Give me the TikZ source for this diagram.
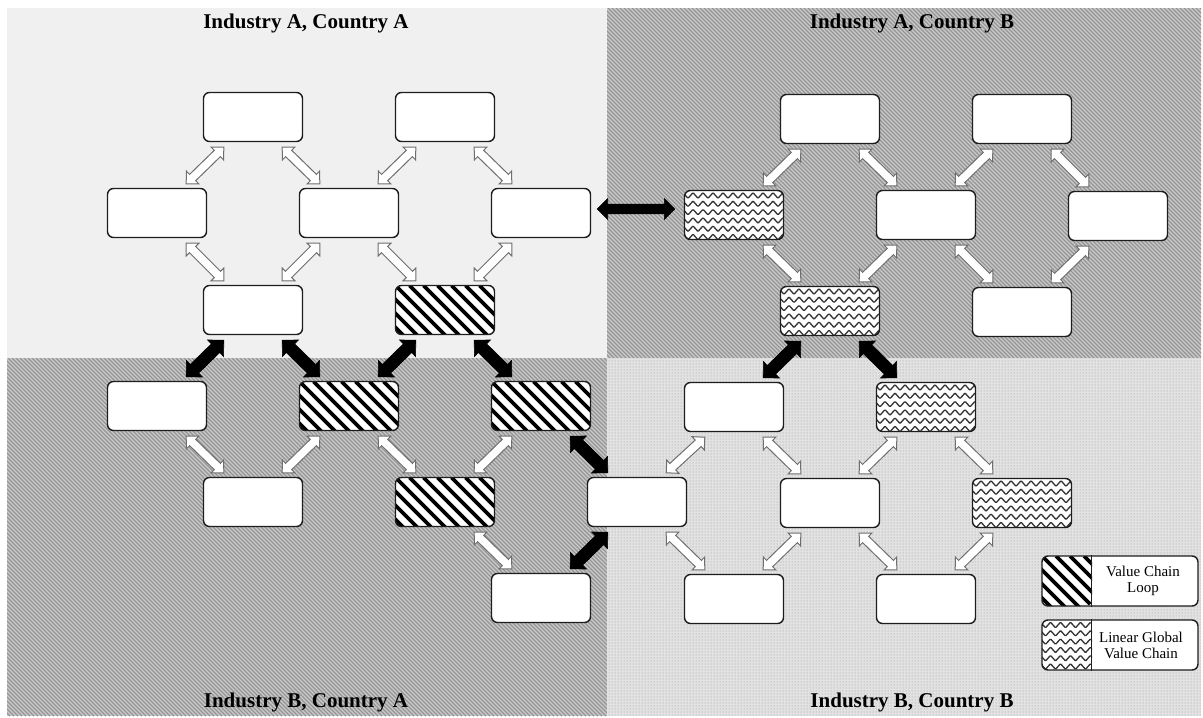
\documentclass[tikz,border=0pt]{standalone}
\usepackage{fontspec}
\setmainfont{Liberation Serif}
\usetikzlibrary{calc,patterns,decorations.pathmorphing}

\definecolor{tlbg}{HTML}{F0F0F0}
\definecolor{diagbg}{HTML}{CACACA}
\definecolor{diagln}{HTML}{949494}
\definecolor{dotbg}{HTML}{E2E2E2}
\definecolor{dotfg}{HTML}{989898}
\definecolor{boxline}{HTML}{1E1E1E}
\definecolor{arrline}{HTML}{6E6E6E}
\definecolor{waveline}{HTML}{333333}

\tikzset{
  box/.style={draw=boxline, line width=1.4pt, rounded corners=6pt, fill=white,
    minimum width=99pt, minimum height=49pt, inner sep=0pt},
  stripes/.style={path picture={
    \foreach \i in {-70,-56,...,112}{
      \draw[black, line width=3.6pt, sharp corners]
        ([xshift=\i pt]path picture bounding box.north west) -- ++(70pt,-70pt);}}},
  waves/.style={path picture={
    \foreach \r in {0,...,6}{
      \draw[waveline, line width=1.3pt, rounded corners=0.8pt, decorate,
        decoration={zigzag, segment length=10pt, amplitude=2.8pt}]
        ([xshift=-4pt, yshift={-5pt-8.3pt*\r}]path picture bounding box.north west) -- ++(120pt,0pt);}}},
  legstripes/.style={path picture={
    \clip (path picture bounding box.north west) rectangle ([xshift=50pt]path picture bounding box.south west);
    \foreach \i in {-70,-56,...,56}{
      \draw[black, line width=3.6pt, sharp corners]
        ([xshift=\i pt]path picture bounding box.north west) -- ++(70pt,-70pt);}}},
  legwaves/.style={path picture={
    \clip (path picture bounding box.north west) rectangle ([xshift=50pt]path picture bounding box.south west);
    \foreach \r in {0,...,6}{
      \draw[waveline, line width=1.3pt, rounded corners=0.8pt, decorate,
        decoration={zigzag, segment length=10pt, amplitude=2.8pt}]
        ([xshift=-4pt, yshift={-5pt-8.3pt*\r}]path picture bounding box.north west) -- ++(70pt,0pt);}}},
  loopbox/.style={box, stripes},
  gvcbox/.style={box, waves},
  legbox/.style={box, minimum width=156pt, minimum height=50pt},
  warrow/.style={draw=arrline, line width=1pt, fill=white, line join=miter},
  barrow/.style={draw=black, line width=0.6pt, fill=black, line join=miter},
  title/.style={font=\bfseries\fontsize{21}{25}\selectfont},
  legtext/.style={font=\fontsize{15}{16}\selectfont, align=center, inner sep=0pt},
}

% block double arrow: style, half shaft width, head length (= half head width), from, to
\newcommand\fatarrow[5]{%
  \coordinate (fa-a) at #4;
  \coordinate (fa-b) at #5;
  \coordinate (fa-p) at ($(fa-a)!#3!(fa-b)$);
  \coordinate (fa-q) at ($(fa-b)!#3!(fa-a)$);
  \draw[#1] (fa-a)
    -- ($(fa-p)!#3!90:(fa-b)$) -- ($(fa-p)!#2!90:(fa-b)$)
    -- ($(fa-q)!#2!-90:(fa-a)$) -- ($(fa-q)!#3!-90:(fa-a)$)
    -- (fa-b)
    -- ($(fa-q)!#3!90:(fa-a)$) -- ($(fa-q)!#2!90:(fa-a)$)
    -- ($(fa-p)!#2!-90:(fa-b)$) -- ($(fa-p)!#3!-90:(fa-b)$)
    -- cycle;}
% links from an upper box to the box below-left / below-right of it
\newcommand\wdl[2]{\fatarrow{warrow}{4.4pt}{9pt}{($(#1.south west)+(21,5)$)}{($(#2.north east)+(-21,-4)$)}}
\newcommand\wdr[2]{\fatarrow{warrow}{4.4pt}{9pt}{($(#1.south east)+(-21,5)$)}{($(#2.north west)+(21,-4)$)}}
\newcommand\bdl[2]{\fatarrow{barrow}{6pt}{11.5pt}{($(#1.south west)+(21,5)$)}{($(#2.north east)+(-21,-4)$)}}
\newcommand\bdr[2]{\fatarrow{barrow}{6pt}{11.5pt}{($(#1.south east)+(-21,5)$)}{($(#2.north west)+(21,-4)$)}}

\begin{document}
\begin{tikzpicture}[x=1pt, y=-1pt]
\useasboundingbox (0,0) rectangle (1203,718);
\fill[white] (0,0) rectangle (1203,718);

% quadrant backgrounds
\fill[tlbg] (7,8) rectangle (607,358);
\begin{scope}
  \clip (607,8) rectangle (1201,358);
  \fill[diagbg] (607,8) rectangle (1201,358);
  \foreach \i in {256,260,...,1204}
    \draw[diagln, line width=1.4pt] (\i,8) -- ({\i+350},358);
\end{scope}
\begin{scope}
  \clip (7,358) rectangle (607,716);
  \fill[diagbg] (7,358) rectangle (607,716);
  \foreach \i in {-352,-348,...,608}
    \draw[diagln, line width=1.4pt] (\i,358) -- ({\i+358},716);
\end{scope}
\fill[dotbg] (607,358) rectangle (1201,716);
\fill[pattern=dots, pattern color=dotfg] (607,358) rectangle (1201,716);

% Industry A, Country A
\node[box] (a1) at (253,117) {};
\node[box] (a2) at (445,117) {};
\node[box] (a3) at (157,213) {};
\node[box] (a4) at (349,213) {};
\node[box] (a5) at (541,213) {};
\node[box] (a6) at (253,310) {};
\node[loopbox] (a7) at (445,310) {};

% Industry B, Country A
\node[box] (b1) at (157,406) {};
\node[loopbox] (b2) at (349,406) {};
\node[loopbox] (b3) at (541,406) {};
\node[box] (b4) at (253,502) {};
\node[loopbox] (b5) at (445,502) {};
\node[box] (b6) at (637,502) {};
\node[box] (b7) at (541,598) {};

% Industry A, Country B
\node[box] (c1) at (830,119) {};
\node[box] (c2) at (1022,119) {};
\node[gvcbox] (c3) at (734,215) {};
\node[box] (c4) at (926,215) {};
\node[box] (c5) at (1118,216) {};
\node[gvcbox] (c6) at (830,311) {};
\node[box] (c7) at (1022,312) {};

% Industry B, Country B
\node[box] (d1) at (734,407) {};
\node[gvcbox] (d2) at (926,407) {};
\node[box] (d3) at (830,503) {};
\node[gvcbox] (d4) at (1022,503) {};
\node[box] (d5) at (734,599) {};
\node[box] (d6) at (926,599) {};

% links inside industry A, country A
\wdl{a1}{a3} \wdr{a1}{a4} \wdl{a2}{a4} \wdr{a2}{a5}
\wdr{a3}{a6} \wdl{a4}{a6} \wdr{a4}{a7} \wdl{a5}{a7}
% links between industries, country A
\bdl{a6}{b1} \bdr{a6}{b2} \bdl{a7}{b2} \bdr{a7}{b3}
% links inside industry B, country A
\wdr{b1}{b4} \wdl{b2}{b4} \wdr{b2}{b5} \wdl{b3}{b5}
\bdr{b3}{b6} \wdr{b5}{b7} \bdl{b6}{b7} \wdr{b6}{d5}
% links inside industry A, country B
\wdl{c1}{c3} \wdr{c1}{c4} \wdl{c2}{c4} \wdr{c2}{c5}
\wdr{c3}{c6} \wdl{c4}{c6} \wdr{c4}{c7} \wdl{c5}{c7}
% links between industries, country B
\bdl{c6}{d1} \bdr{c6}{d2}
% links inside industry B, country B
\wdl{d1}{b6} \wdr{d1}{d3} \wdl{d2}{d3} \wdr{d2}{d4}
\wdl{d3}{d5} \wdr{d3}{d6} \wdl{d4}{d6}
% link between countries, industry A
\fatarrow{barrow}{4.8pt}{10.5pt}{($(a5.east)+(6,-4)$)}{($(c3.west)+(-9,-6)$)}

% quadrant titles
\node[title] (t1) at (306,23) {Industry A, Country A};
\node[title] (t2) at (912,23) {Industry A, Country B};
\node[title] (t3) at (306,702) {Industry B, Country A};
\node[title] (t4) at (912,702) {Industry B, Country B};

% legend
\node[legbox, legstripes] (l1) at (1120,581) {};
\draw[boxline, line width=1.4pt] ([xshift=50pt]l1.north west) -- ([xshift=50pt]l1.south west);
\node[legtext] (l1t) at (1143,581) {Value Chain\\Loop};
\node[legbox, legwaves] (l2) at (1120,645) {};
\draw[boxline, line width=1.4pt] ([xshift=50pt]l2.north west) -- ([xshift=50pt]l2.south west);
\node[legtext] (l2t) at (1141,645) {Linear Global\\Value Chain};
\end{tikzpicture}
\end{document}
